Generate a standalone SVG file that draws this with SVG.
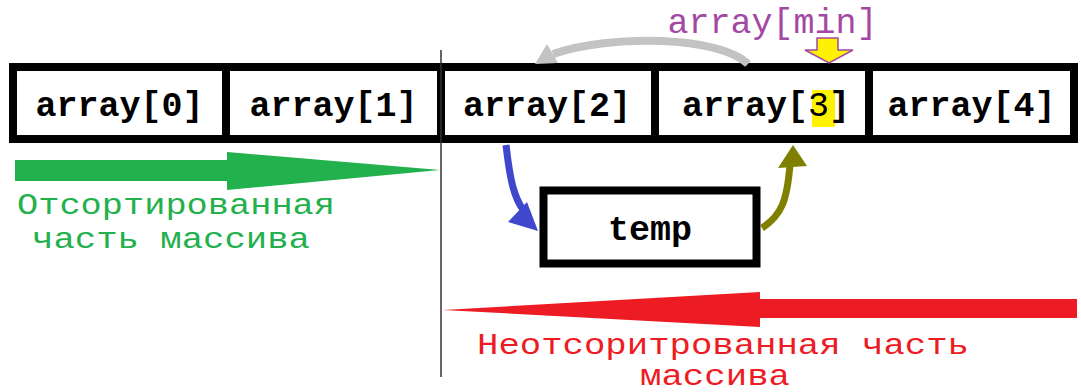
<svg xmlns="http://www.w3.org/2000/svg" width="1081" height="392" viewBox="0 0 1081 392">
<style>
.cell{fill:#fff;stroke:#000;stroke-width:8}
.lbl{font-family:"Liberation Mono","DejaVu Sans Mono",monospace;font-size:35px;font-weight:bold;fill:#000;text-anchor:middle}
.note{font-family:"Liberation Mono","DejaVu Sans Mono",monospace;font-size:35px}
.small{font-size:29px}
.green{fill:#22b14c}
.red{fill:#ed1c24}
.purple{fill:#a349a4}
</style>
<rect width="1081" height="392" fill="#fff"/>
<g id="cells">
  <g id="cell0"><rect class="cell" x="13" y="67" width="213" height="72"/><text class="lbl" x="119.5" y="116">array[0]</text></g>
  <g id="cell1"><rect class="cell" x="226" y="67" width="215" height="72"/><text class="lbl" x="333.5" y="116">array[1]</text></g>
  <g id="cell2"><rect class="cell" x="441" y="67" width="214" height="72"/><text class="lbl" x="547" y="116">array[2]</text></g>
  <g id="cell3"><rect class="cell" x="655" y="67" width="214" height="72"/><rect x="812" y="90" width="23" height="37" fill="#fff200"/><text class="lbl" x="766" y="116">array[<tspan font-weight="normal">3</tspan>]</text></g>
  <g id="cell4"><rect class="cell" x="869" y="67" width="205" height="72"/><text class="lbl" x="971.5" y="116">array[4]</text></g>
</g>
<g id="temp"><rect class="cell" x="543.5" y="190.5" width="213" height="73"/><text class="lbl" x="650" y="240">temp</text></g>
<g id="divider"><line x1="441" y1="50" x2="441" y2="377" stroke="#333" stroke-width="1.5"/></g>
<g id="min-label">
  <text class="note purple" x="772.5" y="33" text-anchor="middle">array[min]</text>
  <polygon points="817,38 838,38 838,50 853,50 829,63 805,50 817,50" fill="#fff200" stroke="#a349a4" stroke-width="1.5"/>
</g>
<g id="connectors">
  <path d="M748,64 C720,36 610,34 553,54" fill="none" stroke="#c3c3c3" stroke-width="8"/>
  <polygon points="535,64 547,44 558,63" fill="#c3c3c3"/>
  <path d="M506,145 C510,180 514,198 524,211" fill="none" stroke="#3f48cc" stroke-width="7"/>
  <polygon points="538,231 508,222 527,202" fill="#3f48cc"/>
  <path d="M762,228 C782,215 787,200 790,165" fill="none" stroke="#808000" stroke-width="7"/>
  <polygon points="793,145 778,168 807,166" fill="#808000"/>
  <polygon points="15,160 227,160 227,152 440,170 227,190 227,181 15,181" fill="#22b14c"/>
  <polygon points="1077,299 760,299 760,292 443,310 760,327 760,318 1077,318" fill="#ed1c24"/>
</g>
<g id="sorted-label">
  <text class="note small green" x="17" y="214" textLength="318" lengthAdjust="spacingAndGlyphs">Отсортированная</text>
  <text class="note small green" x="32" y="248" textLength="278" lengthAdjust="spacingAndGlyphs">часть массива</text>
</g>
<g id="unsorted-label">
  <text class="note small red" x="477" y="354" textLength="492" lengthAdjust="spacingAndGlyphs">Неотсоритрованная часть</text>
  <text class="note small red" x="640" y="385" textLength="150" lengthAdjust="spacingAndGlyphs">массива</text>
</g>
</svg>
